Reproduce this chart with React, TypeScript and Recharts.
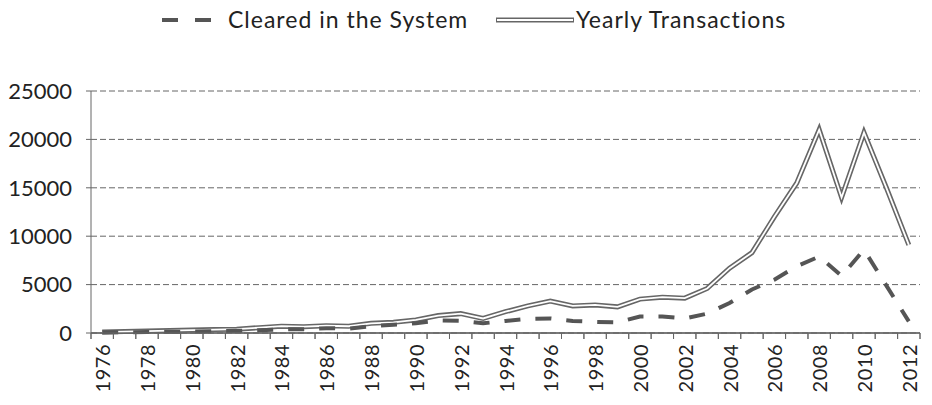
import {
  LineChart,
  Line,
  XAxis,
  YAxis,
  CartesianGrid,
  ReferenceLine,
} from "recharts";

const years = [
  1976, 1977, 1978, 1979, 1980, 1981, 1982, 1983, 1984, 1985, 1986, 1987,
  1988, 1989, 1990, 1991, 1992, 1993, 1994, 1995, 1996, 1997, 1998, 1999,
  2000, 2001, 2002, 2003, 2004, 2005, 2006, 2007, 2008, 2009, 2010, 2011,
  2012,
];

const cleared = [
  50, 80, 100, 130, 150, 180, 220, 280, 380, 400, 500, 450, 700, 850, 1000,
  1300, 1250, 1000, 1250, 1450, 1500, 1250, 1150, 1100, 1700, 1700, 1500,
  2000, 3100, 4500, 5500, 6900, 7900, 5900, 8600, 4900, 1200,
];

const yearly = [
  100, 150, 200, 250, 300, 350, 400, 550, 700, 650, 750, 700, 1000, 1100,
  1350, 1800, 2000, 1500, 2200, 2800, 3300, 2800, 2900, 2700, 3500, 3700,
  3600, 4600, 6700, 8300, 12000, 15500, 21000, 14000, 20700, 15000, 9100,
];

const yTicks = [0, 5000, 10000, 15000, 20000, 25000];
// tick marks sit between the yearly slots
const boundaries = [...years.map((y) => y - 0.5), 2012.5];

const data = years.map((year, i) => ({
  year,
  cleared: cleared[i],
  yearly: yearly[i],
}));

const W = 932;
const H = 405;
const MARGIN = { top: 91, right: 12, bottom: 0, left: 0 };
const Y_AXIS_W = 91;
const SLOT = (W - MARGIN.left - MARGIN.right - Y_AXIS_W) / years.length;
const TICK = 6;

const FONT = "Lato, 'DejaVu Sans', sans-serif";
const INK = "#222";
const GRAY = "#666";

// boundary tick mark, plus a label for every other year centred in its slot
function YearTick({ x, y, payload }: any) {
  const year = payload.value + 0.5;
  const showLabel = year <= 2012 && (year - 1976) % 2 === 0;
  const cx = x + SLOT / 2;
  const cy = y + 5;
  return (
    <g>
      <line x1={x} y1={y - TICK} x2={x} y2={y} stroke={GRAY} />
      {showLabel && (
        <text
          x={cx}
          y={cy}
          transform={`rotate(-90 ${cx} ${cy})`}
          textAnchor="end"
          dominantBaseline="central"
          fontSize={20}
          letterSpacing={0.5}
          fontFamily={FONT}
          fill={INK}
        >
          {year}
        </text>
      )}
    </g>
  );
}

function LegendBar() {
  return (
    <svg
      width={W}
      height={40}
      style={{ position: "absolute", left: 0, top: 0 }}
      fontFamily={FONT}
      fontSize={23}
      letterSpacing={1}
      fill={INK}
    >
      <line x1={162} y1={20} x2={178} y2={20} stroke="#555" strokeWidth={4} />
      <line x1={195} y1={20} x2={211} y2={20} stroke="#555" strokeWidth={4} />
      <text x={228} y={19} dominantBaseline="central">
        Cleared in the System
      </text>
      <line x1={496} y1={20} x2={574} y2={20} stroke={GRAY} strokeWidth={5} />
      <line x1={497} y1={20} x2={573} y2={20} stroke="#fff" strokeWidth={2} />
      <text x={576} y={19} dominantBaseline="central">
        Yearly Transactions
      </text>
    </svg>
  );
}

export default function App() {
  return (
    <div
      style={{
        position: "absolute",
        left: 0,
        top: 0,
        width: W,
        height: H,
        background: "#fff",
      }}
    >
      <LegendBar />
      <LineChart width={W} height={H} data={data} margin={MARGIN}>
        <CartesianGrid
          vertical={false}
          stroke={GRAY}
          strokeDasharray="6 3"
        />
        <XAxis
          dataKey="year"
          type="number"
          domain={[1975.5, 2012.5]}
          ticks={boundaries}
          interval={0}
          height={72}
          tickSize={TICK}
          tickMargin={0}
          stroke={GRAY}
          tick={<YearTick />}
        />
        <YAxis
          width={Y_AXIS_W}
          domain={[0, 25000]}
          ticks={yTicks}
          interval={0}
          tickSize={5}
          tickMargin={14}
          stroke={GRAY}
          tick={{ fill: INK, fontSize: 22, fontFamily: FONT }}
        />
        <ReferenceLine y={0} stroke={GRAY} strokeWidth={1.5} />
        <Line
          dataKey="yearly"
          stroke={GRAY}
          strokeWidth={5}
          dot={false}
          isAnimationActive={false}
        />
        <Line
          dataKey="yearly"
          stroke="#fff"
          strokeWidth={1.8}
          dot={false}
          isAnimationActive={false}
        />
        <Line
          dataKey="cleared"
          stroke="#555"
          strokeWidth={4}
          strokeDasharray="16 15"
          dot={false}
          isAnimationActive={false}
        />
      </LineChart>
    </div>
  );
}
